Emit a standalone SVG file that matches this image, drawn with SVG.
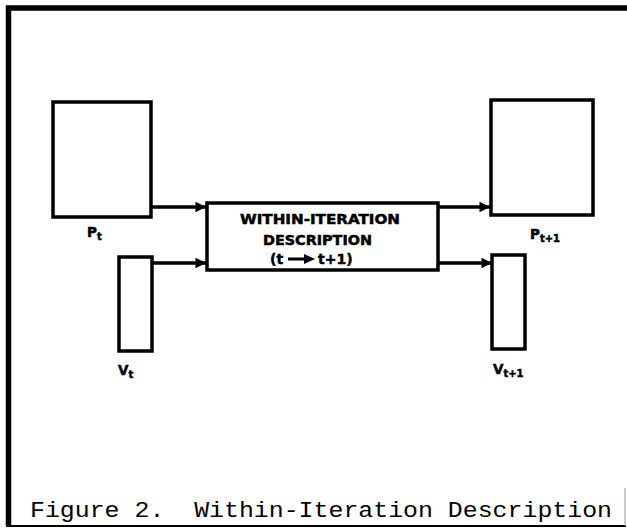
<svg xmlns="http://www.w3.org/2000/svg" width="627" height="528" viewBox="0 0 627 528">
  <style>
    .box { fill: #fff; stroke: #000; stroke-width: 3.5; }
    .wire { fill: none; stroke: #000; stroke-width: 3.5; }
    .lbl { font-family: "DejaVu Sans", "Liberation Sans", Arial, sans-serif; font-weight: bold; fill: #000; stroke: #000; stroke-width: 0.5; }
    .cap { font-family: "Liberation Mono", "Courier New", monospace; fill: #000; }
  </style>
  <defs>
    <marker id="head" viewBox="0 0 10 10" refX="10" refY="5" markerWidth="3.4" markerHeight="3" orient="auto" markerUnits="strokeWidth">
      <path d="M0,0 L10,5 L0,10 Z" fill="#000"/>
    </marker>
  </defs>
  <rect width="627" height="528" fill="#fff"/>

  <!-- page frame -->
  <g id="frame">
    <path d="M8.5,526 V8 H627" fill="none" stroke="#000" stroke-width="5.5"/>
    <line x1="6" y1="526" x2="626" y2="526" stroke="#000" stroke-width="2"/>
    <line x1="625" y1="488" x2="625" y2="526" stroke="#999" stroke-width="1"/>
  </g>

  <!-- connectors -->
  <g id="connectors">
    <path class="wire" d="M151,207 H206" marker-end="url(#head)"/>
    <path class="wire" d="M152,263 H206" marker-end="url(#head)"/>
    <path class="wire" d="M438,207 H490" marker-end="url(#head)"/>
    <path class="wire" d="M438,263 H492" marker-end="url(#head)"/>
  </g>

  <g id="node-pt">
    <rect class="box" x="53" y="102" width="98" height="115"/>
    <text class="lbl" x="87" y="237" font-size="13.5">P<tspan font-size="10" dy="3">t</tspan></text>
  </g>

  <g id="node-vt">
    <rect class="box" x="119" y="257" width="33" height="94"/>
    <text class="lbl" x="118" y="375" font-size="13.5">V<tspan font-size="10" dy="3">t</tspan></text>
  </g>

  <g id="node-within">
    <rect class="box" x="207" y="203" width="231" height="67"/>
    <text class="lbl" x="320" y="224" font-size="14" text-anchor="middle" textLength="160" lengthAdjust="spacingAndGlyphs">WITHIN-ITERATION</text>
    <text class="lbl" x="317.5" y="245" font-size="14" text-anchor="middle" textLength="109" lengthAdjust="spacingAndGlyphs">DESCRIPTION</text>
    <text class="lbl" x="270" y="264" font-size="14">(t<tspan x="318">t+1)</tspan></text>
    <path d="M288,259 H305" stroke="#000" stroke-width="3"/>
    <path d="M304,254 L315,259 L304,264 Z" fill="#000"/>
  </g>

  <g id="node-pt1">
    <rect class="box" x="491" y="100" width="102" height="115"/>
    <text class="lbl" x="530" y="239" font-size="13.5">P<tspan font-size="10" dy="3">t+1</tspan></text>
  </g>

  <g id="node-vt1">
    <rect class="box" x="492" y="255" width="33" height="94"/>
    <text class="lbl" x="493" y="374" font-size="13.5">V<tspan font-size="10" dy="3">t+1</tspan></text>
  </g>

  <g id="caption">
    <text class="cap" x="30" y="517" font-size="22" textLength="582" lengthAdjust="spacingAndGlyphs" xml:space="preserve">Figure 2.  Within-Iteration Description</text>
  </g>
</svg>
